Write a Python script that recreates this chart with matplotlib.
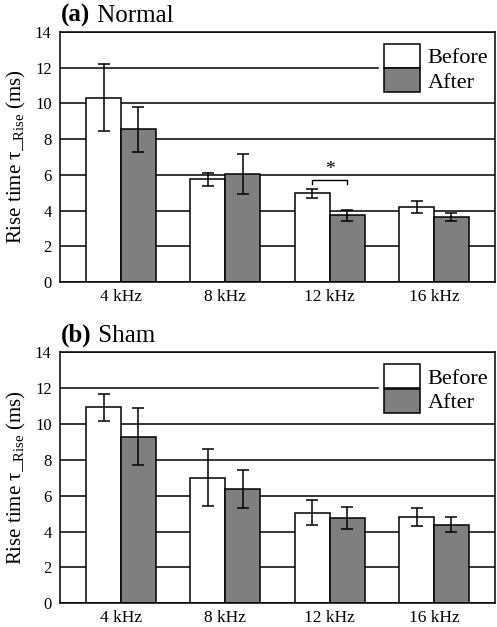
import numpy as np
import matplotlib
matplotlib.use("Agg")
import matplotlib.pyplot as plt

plt.rcParams['font.family'] = ['Liberation Serif', 'DejaVu Serif']
plt.rcParams['mathtext.fontset'] = 'custom'
plt.rcParams['mathtext.rm'] = 'Liberation Serif'
plt.rcParams['mathtext.it'] = 'Liberation Serif:italic'

categories = ['4 kHz', '8 kHz', '12 kHz', '16 kHz']
ticks_y = [0, 2, 4, 6, 8, 10, 12, 14]

# panel (a) Normal
normal_before = [10.33, 5.76, 4.97, 4.21]
normal_before_err = [1.87, 0.37, 0.25, 0.33]
normal_after = [8.55, 6.05, 3.73, 3.64]
normal_after_err = [1.25, 1.14, 0.29, 0.21]

# panel (b) Sham
sham_before = [10.93, 7.0, 5.04, 4.83]
sham_before_err = [0.75, 1.6, 0.7, 0.51]
sham_after = [9.29, 6.36, 4.76, 4.38]
sham_after_err = [1.6, 1.06, 0.62, 0.42]

fig = plt.figure(figsize=(4.97, 6.27), dpi=100)
ax1 = fig.add_axes([0.1207, 0.5502, 0.8753, 0.3987])
ax2 = fig.add_axes([0.1207, 0.0378, 0.8753, 0.4003])

x = np.arange(len(categories))
w = 0.335

def draw(ax, before, berr, after, aerr):
    ax.bar(x - w/2, before, w, color='white', edgecolor='black', linewidth=1.1,
           yerr=berr, capsize=4, error_kw=dict(elinewidth=1.1, capthick=1.1), zorder=3, label='Before')
    ax.bar(x + w/2, after, w, color='#7f7f7f', edgecolor='black', linewidth=1.1,
           yerr=aerr, capsize=4, error_kw=dict(elinewidth=1.1, capthick=1.1), zorder=3, label='After')
    ax.set_xlim(-0.585, 3.585)
    ax.set_ylim(0, 14)
    ax.set_yticks(ticks_y)
    ax.set_xticks(x)
    ax.set_xticklabels(categories, fontsize=12.5)
    ax.tick_params(axis='y', labelsize=12, length=0, pad=6)
    ax.tick_params(axis='x', length=0, pad=5)
    ax.yaxis.grid(True, color='black', linewidth=1.1, zorder=0)
    ax.set_axisbelow(True)
    for s in ax.spines.values():
        s.set_linewidth(1.1)
        s.set_zorder(5)
    ax.set_ylabel(r'Rise time τ_$_{\mathrm{Rise}}$ (ms)', fontsize=15, labelpad=5)
    leg = ax.legend(loc='upper right', bbox_to_anchor=(1.0, 0.98), fontsize=16, frameon=True,
                    framealpha=1, edgecolor='white', fancybox=False, labelspacing=0,
                    handlelength=1.6, handleheight=1.3, handletextpad=0.35,
                    borderaxespad=0.05, borderpad=0.25)
    leg.set_zorder(4)

draw(ax1, normal_before, normal_before_err, normal_after, normal_after_err)
draw(ax2, sham_before, sham_before_err, sham_after, sham_after_err)

# significance bracket at 12 kHz
xb0, xb1 = x[2] - w/2, x[2] + w/2
ax1.plot([xb0, xb0, xb1, xb1], [5.5, 5.7, 5.7, 5.5], color='black', linewidth=1.0, zorder=4)
ax1.text(x[2], 5.85, '*', ha='center', va='bottom', fontsize=14, zorder=4)

fig.canvas.draw()
r = fig.canvas.get_renderer()
for ax, tag, name in [(ax1, '(a)', 'Normal'), (ax2, '(b)', 'Sham')]:
    t = ax.text(0.003, 1.02, tag, transform=ax.transAxes, fontsize=18, fontweight='bold', va='bottom')
    bb = t.get_window_extent(r)
    x_end = ax.transAxes.inverted().transform((bb.x1, bb.y0))[0]
    ax.text(x_end, 1.02, ' ' + name, transform=ax.transAxes, fontsize=18, va='bottom')

fig.savefig('out.png', dpi=100)
